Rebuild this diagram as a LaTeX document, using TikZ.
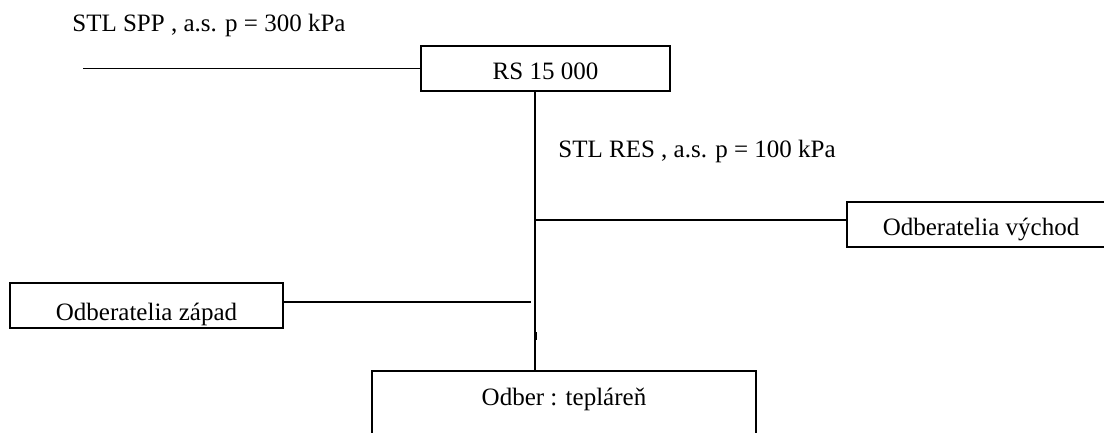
\documentclass[tikz,border=0pt]{standalone}
\usepackage{fontspec}
\setmainfont{Liberation Serif}
\begin{document}
\begin{tikzpicture}[x=0.5pt,y=-0.5pt,
  every node/.style={font=\fontsize{12.5}{15}\selectfont},
  box/.style={draw, line width=0.8pt, inner sep=0pt, minimum height=22.5pt, text depth=0pt},
  pipe/.style={line width=0.8pt},
  lbl/.style={inner sep=0pt, anchor=base west}]
\useasboundingbox (0,0) rectangle (1104,433);
\clip (0,0) rectangle (1104,433);
\fill[white] (0,0) rectangle (1104,433);
% labels
\node[lbl] (spp) at (72,32) {STL SPP , a.s. p = 300 kPa};
\node[lbl] (res) at (558,158) {STL RES , a.s. p = 100 kPa};
% boxes
\node[box, minimum width=124.5pt, text height=11.5pt] (rs) at (545.5,68.5) {RS 15 000};
\node[box, minimum width=134pt, text height=10.5pt] (east) at (981,224.5) {Odberatelia východ};
\node[box, minimum width=136.5pt, text height=15.5pt] (west) at (146.5,305.5) {Odberatelia západ};
\node[box, minimum width=192pt, minimum height=37pt, text height=6pt, text depth=9pt] (odber) at (564,408) {Odber : tepláreň};
% junction coordinates
\coordinate (in) at (83,68.5);
\coordinate (jE) at (535,220);
\coordinate (jW) at (531,302);
\coordinate (k1) at (535,332);
\coordinate (k2) at (535,340);
% connectors
\draw[pipe] (in) -- (rs.west);
\draw[pipe] (rs.south -| jE) -- (odber.north -| jE);
\draw[line width=1.5pt] (k1) -- (k2);
\draw[pipe] (jE) -- (jE -| east.west);
\draw[pipe] (west.east |- jW) -- (jW);
\end{tikzpicture}
\end{document}
